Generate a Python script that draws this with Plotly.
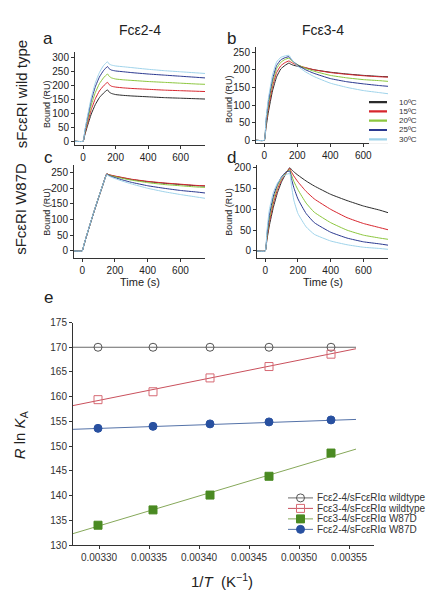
import plotly.graph_objects as go

W, H = 432, 600

# ---------------- data: sensorgrams (Bound, RU) ----------------
time_s = [-50, 0, 10, 25, 50, 75, 100, 125, 150, 160, 175, 200, 250, 300, 400, 500, 600, 700, 750]
temps = ["10ºC", "15ºC", "20ºC", "25ºC", "30ºC"]

# panel a: Fce2-4 / sFceRI wild type
a_10 = [0, 0, 22, 52, 98, 132, 157, 173, 185, 177, 172, 168, 165, 163, 160, 157, 155, 153, 152]
a_15 = [0, 0, 26, 61, 114, 153, 181, 199, 212, 204, 198, 195, 192, 190, 187, 184, 182, 180, 179]
a_20 = [0, 0, 30, 70, 130, 175, 207, 228, 242, 234, 228, 224, 221, 219, 215, 212, 209, 206, 205]
a_25 = [0, 0, 34, 79, 146, 196, 231, 254, 269, 261, 256, 253, 250, 247, 242, 238, 234, 230, 228]
a_30 = [0, 0, 37, 85, 157, 210, 247, 272, 286, 278, 274, 271, 268, 265, 259, 254, 250, 246, 244]

# panel b: Fce3-4 / sFceRI wild type
b_10 = [0, 0, 34, 80, 140, 180, 202, 212, 219, 216, 213, 210, 205, 200, 193, 188, 184, 181, 180]
b_15 = [0, 0, 40, 92, 152, 192, 211, 220, 225, 222, 218, 213, 206, 200, 192, 187, 183, 180, 179]
b_20 = [0, 0, 46, 102, 163, 203, 221, 229, 233, 228, 222, 215, 204, 196, 184, 177, 172, 169, 167]
b_25 = [0, 0, 52, 110, 173, 212, 228, 234, 237, 231, 224, 214, 200, 190, 175, 166, 160, 155, 153]
b_30 = [0, 0, 58, 118, 185, 222, 235, 239, 241, 234, 224, 211, 194, 181, 162, 150, 141, 135, 132]

# panel c: Fce2-4 / sFceRI W87D
c_10 = [0, 0, 18, 45, 88, 130, 170, 209, 246, 244, 241, 238, 233, 228, 221, 216, 212, 208, 207]
c_15 = [0, 0, 18, 45, 88, 130, 170, 209, 246, 244, 242, 239, 234, 229, 222, 217, 213, 209, 208]
c_20 = [0, 0, 18, 45, 88, 130, 170, 209, 245, 243, 240, 237, 231, 226, 218, 212, 208, 204, 203]
c_25 = [0, 0, 18, 45, 88, 130, 170, 209, 245, 242, 238, 234, 226, 219, 208, 200, 193, 188, 185]
c_30 = [0, 0, 19, 46, 89, 131, 171, 210, 244, 240, 236, 231, 222, 214, 200, 189, 180, 172, 168]

# panel d: Fce3-4 / sFceRI W87D
d_10 = [0, 0, 25, 60, 105, 140, 166, 185, 200, 196, 190, 182, 168, 156, 136, 121, 108, 98, 92]
d_15 = [0, 0, 28, 68, 115, 148, 171, 187, 198, 190, 180, 166, 143, 125, 100, 80, 66, 56, 51]
d_20 = [0, 0, 32, 76, 124, 155, 175, 188, 195, 183, 167, 147, 115, 93, 68, 50, 38, 31, 28]
d_25 = [0, 0, 37, 85, 132, 160, 178, 189, 192, 174, 152, 125, 90, 68, 45, 31, 22, 17, 14]
d_30 = [0, 0, 45, 98, 141, 163, 176, 183, 186, 158, 122, 90, 58, 40, 24, 15, 9, 6, 4]

time_ticks = [0, 200, 400, 600]

# ---------------- data: van't Hoff plot (panel e) ----------------
inv_T = [0.003299, 0.003354, 0.003411, 0.003470, 0.003532]
e_wt_24 = [170.0, 170.0, 170.0, 170.0, 170.0]
e_wt_34 = [159.4, 161.0, 163.8, 166.1, 168.6]
e_w87d_34 = [134.0, 137.1, 140.1, 143.9, 148.6]
e_w87d_24 = [153.6, 154.0, 154.5, 154.9, 155.3]

fit_x = [0.003274, 0.003557]
fit_wt_24 = [170.0, 170.0]
fit_wt_34 = [158.2, 169.7]
fit_w87d_34 = [132.3, 149.4]
fit_w87d_24 = [153.4, 155.4]

e_names = ["Fcε2-4/sFcεRIα wildtype", "Fcε3-4/sFcεRIα wildtype",
           "Fcε3-4/sFcεRIα W87D", "Fcε2-4/sFcεRIα W87D"]
e_xticks = [0.00330, 0.00335, 0.00340, 0.00345, 0.00350, 0.00355]
e_xticklabels = ["0.00330", "0.00335", "0.00340", "0.00345", "0.00350", "0.00355"]
e_yticks = [130, 135, 140, 145, 150, 155, 160, 165, 170, 175]

# ---------------- styles ----------------
temp_colors = ["#2b2b2b", "#d7262e", "#8cc63e", "#2b3990", "#9fd3ea"]
FONT = "Arial, 'Liberation Sans', sans-serif"
AXC = "#333333"
TXT = "#222222"


def fx(p):
    return p / W


def fy(p):
    return 1 - p / H


fig = go.Figure()

panels = [
    ("", (75, 205), (47, 142), [-50, 750], [-14, 321], 300, [a_10, a_15, a_20, a_25, a_30]),
    ("2", (256, 388), (42, 140), [-50, 750], [-8.3, 264], 250, [b_10, b_15, b_20, b_25, b_30]),
    ("3", (74, 205), (162, 257), [-50, 750], [-22, 275], 250, [c_10, c_15, c_20, c_25, c_30]),
    ("4", (257, 388), (162, 257), [-50, 750], [-16.5, 207], 200, [d_10, d_15, d_20, d_25, d_30]),
]

axis_common = dict(showline=True, linecolor=AXC, linewidth=1, ticks="outside", ticklen=3,
                   tickcolor=AXC, tickwidth=1, showgrid=False, zeroline=False,
                   tickfont=dict(family=FONT, size=10, color=TXT), fixedrange=True)

layout_axes = {}
for pid, xpx, ypx, xr, yr, ymaxtick, series in panels:
    layout_axes["xaxis" + pid] = dict(domain=[fx(xpx[0]), fx(xpx[1])], range=xr, anchor="y" + pid,
                                      tickvals=time_ticks, **axis_common)
    layout_axes["yaxis" + pid] = dict(domain=[fy(ypx[1]), fy(ypx[0])], range=yr, anchor="x" + pid,
                                      tickvals=list(range(0, ymaxtick + 1, 50)), **axis_common)
    for vals, col in zip(series, temp_colors):
        fig.add_trace(go.Scatter(x=time_s, y=vals, mode="lines", xaxis="x" + pid, yaxis="y" + pid,
                                 line=dict(color=col, width=1, shape="spline", smoothing=0.4),
                                 showlegend=False, hoverinfo="skip"))

# panel e axes
e_axis = {**axis_common, "tickfont": dict(family=FONT, size=10, color="#333")}
layout_axes["xaxis5"] = dict(domain=[fx(73), fx(374)], range=[0.003274, 0.003575], anchor="y5",
                             tickvals=e_xticks, ticktext=e_xticklabels, **e_axis)
layout_axes["yaxis5"] = dict(domain=[fy(550), fy(323)], range=[130, 175], anchor="x5",
                             tickvals=e_yticks, **e_axis)

e_series = [
    (e_wt_24, fit_wt_24, "#6a6a6a", "#555555", "circle-open", "#555555"),
    (e_wt_34, fit_wt_34, "#c9505c", "#d66a74", "square-open", "#d66a74"),
    (e_w87d_34, fit_w87d_34, "#86a85a", "#4a8a22", "square", "#4a8a22"),
    (e_w87d_24, fit_w87d_24, "#5472a8", "#2850a0", "circle", "#2850a0"),
]
for yv, fitv, lcol, mcol, sym, mline in e_series:
    fig.add_trace(go.Scatter(x=fit_x, y=fitv, mode="lines", xaxis="x5", yaxis="y5",
                             line=dict(color=lcol, width=1), showlegend=False, hoverinfo="skip"))
    fig.add_trace(go.Scatter(x=inv_T, y=yv, mode="markers", xaxis="x5", yaxis="y5",
                             marker=dict(symbol=sym, size=8, color=mcol,
                                         line=dict(color=mline, width=1)),
                             showlegend=False, hoverinfo="skip"))


def ann(text, x, y, size, angle=0, color=TXT):
    return dict(text=text, x=fx(x), y=fy(y), xref="paper", yref="paper", showarrow=False,
                xanchor="center", yanchor="middle", textangle=angle,
                font=dict(family=FONT, size=size, color=color))


annotations = [
    ann("Fcε2-4", 140, 25, 14),
    ann("Fcε3-4", 323, 25, 14),
    ann("a", 48, 33, 17), ann("b", 231, 33, 17),
    ann("c", 48, 155, 17), ann("d", 231, 155, 17),
    ann("e", 48, 297, 17),
    ann("sFcεRI wild type", 21, 90, 15, -90),
    ann("sFcεRI W87D", 21, 207, 15, -90),
    ann("Bound (RU)", 47, 100, 9, -90),
    ann("Bound (RU)", 229, 95, 9, -90),
    ann("Bound (RU)", 47, 210, 9, -90),
    ann("Bound (RU)", 229, 210, 9, -90),
    ann("Time (s)", 140, 282, 11),
    ann("Time (s)", 323, 282, 11),
    ann("<i>R</i> ln <i>K</i><sub>A</sub>", 20, 438, 15, -90),
    ann("1/<i>T</i>  (K<sup>−1</sup>)", 222, 586, 15),
]

# temperature legend (panel b) on its own hidden axis
layout_axes["xaxis6"] = dict(domain=[fx(369), fx(432)], range=[0, 63], visible=False, fixedrange=True, anchor="y6")
layout_axes["yaxis6"] = dict(domain=[fy(140.75), fy(93.25)], range=[4.5, -0.5], visible=False, fixedrange=True, anchor="x6")
for i, (lab, col) in enumerate(zip(temps, temp_colors)):
    fig.add_trace(go.Scatter(x=[0, 18], y=[i, i], mode="lines", xaxis="x6", yaxis="y6",
                             line=dict(color=col, width=2.2), showlegend=False, hoverinfo="skip"))
    annotations.append(dict(text=lab, x=28, y=i, xref="x6", yref="y6", showarrow=False,
                            xanchor="left", yanchor="middle",
                            font=dict(family=FONT, size=8, color="#333")))

# panel e legend
layout_axes["xaxis7"] = dict(domain=[fx(288), fx(432)], range=[0, 144], visible=False, fixedrange=True, anchor="y7")
layout_axes["yaxis7"] = dict(domain=[fy(539.4), fy(496.6)], range=[3.5, -0.5], visible=False, fixedrange=True, anchor="x7")
for i, (lab, (yv, fitv, lcol, mcol, sym, mline)) in enumerate(zip(e_names, e_series)):
    fig.add_trace(go.Scatter(x=[0, 25], y=[i, i], mode="lines", xaxis="x7", yaxis="y7",
                             line=dict(color=lcol, width=1), showlegend=False, hoverinfo="skip"))
    fig.add_trace(go.Scatter(x=[12.5], y=[i], mode="markers", xaxis="x7", yaxis="y7",
                             marker=dict(symbol=sym, size=8, color=mcol, line=dict(color=mline, width=1)),
                             showlegend=False, hoverinfo="skip"))
    annotations.append(dict(text=lab, x=27, y=i, xref="x7", yref="y7", showarrow=False,
                            xanchor="left", yanchor="middle",
                            font=dict(family=FONT, size=10, color="#333")))

fig.update_layout(width=W, height=H, margin=dict(l=0, r=0, t=0, b=0),
                  paper_bgcolor="white", plot_bgcolor="white", showlegend=False,
                  annotations=annotations, **layout_axes)

fig.write_html("out.html", config={"displayModeBar": False},
               post_script="document.body.style.margin='0';document.body.style.overflow='hidden';")
